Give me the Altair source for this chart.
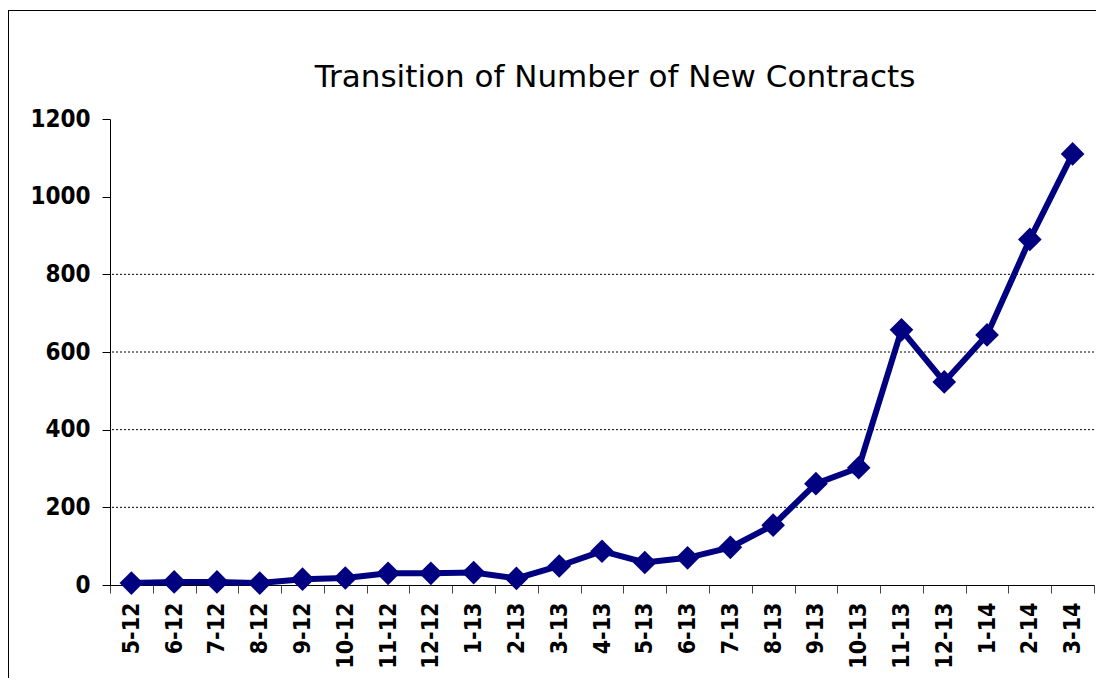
import altair as alt
import pandas as pd

months = ["5-12", "6-12", "7-12", "8-12", "9-12", "10-12", "11-12", "12-12",
          "1-13", "2-13", "3-13", "4-13", "5-13", "6-13", "7-13", "8-13",
          "9-13", "10-13", "11-13", "12-13", "1-14", "2-14", "3-14"]
contracts = [5, 8, 8, 5, 15, 18, 30, 30, 32, 17, 49, 87, 58, 70, 97, 154,
             261, 302, 657, 523, 644, 890, 1110]
y_ticks = [0, 200, 400, 600, 800, 1000, 1200]
grid_values = [200, 400, 600, 800]
title_text = "Transition of Number of New Contracts"

df = pd.DataFrame({"month": months, "count": contracts})
grid_df = pd.DataFrame({"v": grid_values})
frame_df = pd.DataFrame({"a": [0]})

label_font = "Liberation Sans Narrow, DejaVu Sans Condensed, Arial Narrow, sans-serif"

y_scale = alt.Scale(domain=[0, 1200], nice=False, zero=True)
y_axis = alt.Axis(title=None, values=y_ticks, format="d", tickSize=8, tickColor="black",
                  domainColor="black", labelColor="black", labelFont=label_font,
                  labelFontSize=24, labelFontWeight="bold", labelPadding=12,
                  grid=False)

grid = alt.Chart(grid_df).mark_rule(color="black", strokeWidth=1, strokeDash=[2, 2]).encode(
    y=alt.Y("v:Q", scale=y_scale, axis=y_axis)
)

line = alt.Chart(df).mark_line(
    color="#000080", strokeWidth=6,
    point=alt.OverlayMarkDef(shape="diamond", size=560, filled=True, color="#000080", opacity=1),
).encode(
    x=alt.X("month:N", sort=months, bandPosition=0.5,
            scale=alt.Scale(type="band", paddingInner=0, paddingOuter=0),
            axis=alt.Axis(title=None, labelAngle=-90, tickBand="extent", tickSize=8,
                          tickColor="#444", domainColor="black", labelColor="black",
                          labelFont=label_font, labelFontSize=23, labelFontWeight="bold",
                          labelPadding=9, grid=False)),
    y=alt.Y("count:Q", scale=y_scale, axis=y_axis),
)

title = alt.Chart(frame_df).mark_text(
    font="DejaVu Sans", fontSize=31, color="black", align="center", baseline="alphabetic"
).encode(x=alt.value(505), y=alt.value(-32), text=alt.value(title_text))

frame_left = alt.Chart(frame_df).mark_rule(color="black", strokeWidth=1).encode(
    x=alt.value(-101.5), y=alt.value(-108), y2=alt.value(700)
)
frame_top = alt.Chart(frame_df).mark_rule(color="black", strokeWidth=1).encode(
    x=alt.value(-102), x2=alt.value(992), y=alt.value(-108.5)
)

chart = alt.layer(grid, line, title, frame_left, frame_top).properties(
    width=984, height=466,
    background="white",
    autosize=alt.AutoSizeParams(type="none"),
    padding={"left": 102, "top": 111, "right": 2, "bottom": 93},
).configure_view(strokeWidth=0, stroke="transparent")

chart.save("out.html", embed_options={"renderer": "svg", "actions": False})
